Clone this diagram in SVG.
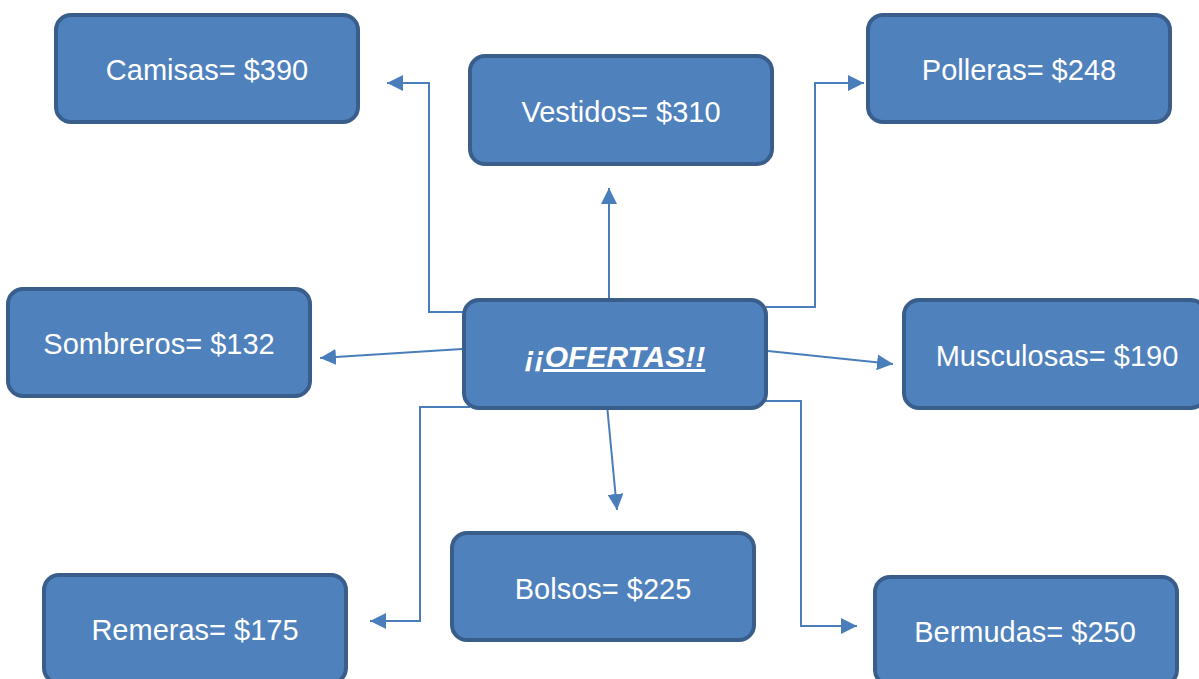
<svg xmlns="http://www.w3.org/2000/svg" width="1199" height="679" viewBox="0 0 1199 679">
<defs>
<style>
.box{fill:#4F81BD;stroke:#3A5E8C;stroke-width:4}
.t{font-family:"Liberation Sans",Arial,sans-serif;font-size:29px;fill:#fff;text-anchor:middle}
.c{fill:none;stroke:#4A7EBB;stroke-width:2}
</style>
<marker id="ah" markerWidth="8" markerHeight="8" refX="8" refY="4" orient="auto" markerUnits="strokeWidth">
<path d="M0,0 L8,4 L0,8 Z" fill="#4A7EBB"/>
</marker>
</defs>
<rect width="1199" height="679" fill="#fff"/>
<g id="connectors">
<polyline class="c" points="466,312 429,312 429,83 387,83" marker-end="url(#ah)"/>
<line class="c" x1="609" y1="300" x2="609" y2="188" marker-end="url(#ah)"/>
<polyline class="c" points="766,307 815,307 815,83 864,83" marker-end="url(#ah)"/>
<line class="c" x1="462" y1="349" x2="320" y2="358" marker-end="url(#ah)"/>
<line class="c" x1="768" y1="351" x2="893" y2="364" marker-end="url(#ah)"/>
<polyline class="c" points="470,407 420,407 420,621 370,621" marker-end="url(#ah)"/>
<line class="c" x1="607" y1="405" x2="617" y2="510" marker-end="url(#ah)"/>
<polyline class="c" points="764,401 801,401 801,626 857,626" marker-end="url(#ah)"/>
</g>
<g id="camisas"><rect class="box" x="56" y="15" width="302" height="107" rx="15"/><text class="t" x="207" y="80">Camisas= $390</text></g>
<g id="vestidos"><rect class="box" x="470" y="56" width="302" height="108" rx="15"/><text class="t" x="621" y="122">Vestidos= $310</text></g>
<g id="polleras"><rect class="box" x="868" y="15" width="302" height="107" rx="15"/><text class="t" x="1019" y="80">Polleras= $248</text></g>
<g id="sombreros"><rect class="box" x="8" y="289" width="302" height="107" rx="15"/><text class="t" x="159" y="354">Sombreros= $132</text></g>
<g id="ofertas"><rect class="box" x="464" y="300" width="302" height="108" rx="15"/><text class="t" x="615" y="367" style="font-size:30px" font-weight="bold" font-style="italic" text-decoration="underline">¡¡OFERTAS!!</text></g>
<g id="musculosas"><rect class="box" x="904" y="300" width="302" height="108" rx="15"/><text class="t" x="1057" y="366">Musculosas= $190</text></g>
<g id="remeras"><rect class="box" x="44" y="575" width="302" height="108" rx="15"/><text class="t" x="195" y="640">Remeras= $175</text></g>
<g id="bolsos"><rect class="box" x="452" y="533" width="302" height="107" rx="15"/><text class="t" x="603" y="599">Bolsos= $225</text></g>
<g id="bermudas"><rect class="box" x="875" y="577" width="302" height="108" rx="15"/><text class="t" x="1025" y="642">Bermudas= $250</text></g>
</svg>
